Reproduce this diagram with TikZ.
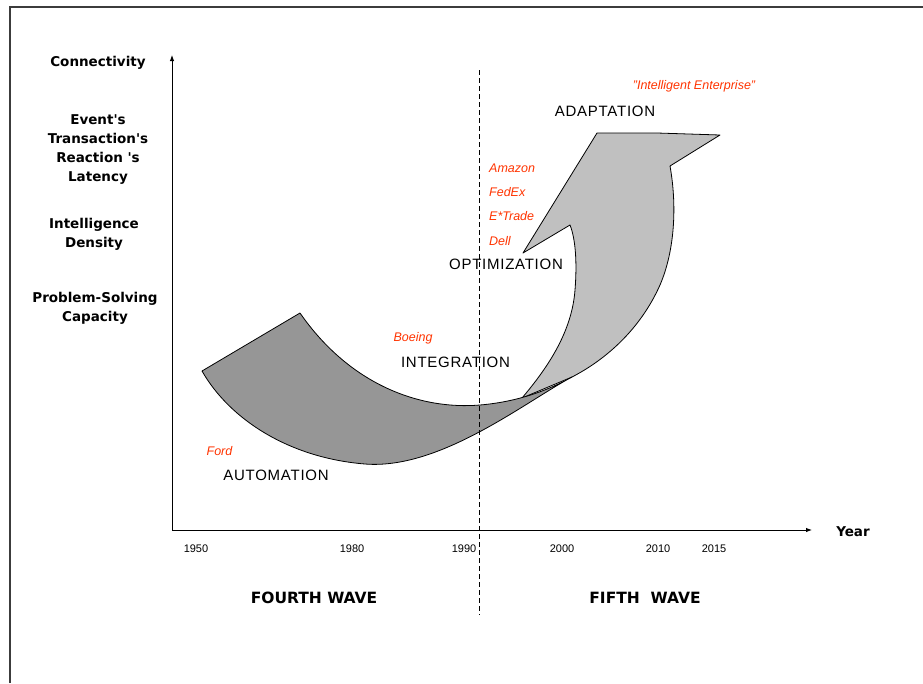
\documentclass[tikz,border=0pt]{standalone}
\usepackage{fontspec}
\setmainfont{Liberation Sans}
\newfontfamily\blbl{DejaVu Sans}
\newfontfamily\reglbl{Liberation Sans}[LetterSpace=5]
\usetikzlibrary{arrows.meta}
\definecolor{redlab}{RGB}{255,51,0}
\definecolor{darkfill}{RGB}{150,150,150}
\definecolor{lightfill}{RGB}{192,192,192}
\definecolor{framecol}{RGB}{60,60,60}
\tikzset{
  ylab/.style={font=\blbl\bfseries\fontsize{13.5}{19}\selectfont, align=center, inner sep=0pt},
  stage/.style={font=\reglbl\fontsize{15}{18}\selectfont, inner sep=0pt},
  company/.style={font=\itshape\fontsize{12.5}{15}\selectfont, text=redlab, inner sep=0pt},
  yearlab/.style={font=\fontsize{11}{13}\selectfont, inner sep=0pt},
  wave/.style={font=\blbl\bfseries\fontsize{15.5}{19}\selectfont, inner sep=0pt},
  axisline/.style={line width=0.9pt, -{Latex[length=6pt,width=4.5pt]}},
  wavebody/.style={draw=black, line width=0.8pt, line join=round},
  divider/.style={line width=0.9pt, dash pattern=on 5pt off 3pt},
  framel/.style={draw=framecol, line width=1.3pt}
}
\begin{document}
\begin{tikzpicture}[x=1pt,y=-1pt]
\useasboundingbox (0,0) rectangle (923,683);
% frame
\coordinate (fbl) at (10,683);
\coordinate (ftl) at (10,7);
\coordinate (ftr) at (923,7);
\draw[framel] (fbl) -- (ftl) -- (ftr);
% fifth-wave arrow (light)
\filldraw[wavebody, fill=lightfill] (522,398) .. controls (550,365) and (572,330) .. (575,290) .. controls (577,265) and (576,240) .. (570,225) -- (523,253) -- (597,133) -- (657,133) -- (720,135) -- (670,166) .. controls (677,205) and (675,250) .. (660,285) .. controls (640,330) and (605,360) .. (572,377) -- cycle;
% fourth-wave band (dark)
\filldraw[wavebody, fill=darkfill] (202,371) -- (300,313) .. controls (350,385) and (420,410) .. (480,405) .. controls (515,402) and (545,392) .. (572,377) .. controls (525,402) and (440,470) .. (365,464) .. controls (290,458) and (230,420) .. (202,371) -- cycle;
% axes
\coordinate (origin) at (172,530);
\coordinate (ytop) at (172,55);
\coordinate (xend) at (812,530);
\draw[axisline] (origin) -- (ytop);
\draw[axisline] (origin) -- (xend);
% divider
\coordinate (dtop) at (479,70);
\coordinate (dbot) at (479,615);
\draw[divider] (dtop) -- (dbot);
% y labels
\node[ylab] (conn) at (98,62.5) {Connectivity};
\node[ylab] (event) at (98,149.5) {Event\textquotesingle s\\Transaction\textquotesingle s\\Reaction \textquotesingle s\\Latency};
\node[ylab] (intel) at (94,234) {Intelligence\\Density};
\node[ylab] (prob) at (95,308) {Problem-Solving\\Capacity};
\node[ylab] (year) at (853,532) {Year};
% years
\node[yearlab] (y1950) at (196,549) {1950};
\node[yearlab] (y1980) at (352,549) {1980};
\node[yearlab] (y1990) at (464,549) {1990};
\node[yearlab] (y2000) at (562,549) {2000};
\node[yearlab] (y2010) at (658,549) {2010};
\node[yearlab] (y2015) at (714,549) {2015};
% waves
\node[wave] (fourth) at (314,598) {FOURTH WAVE};
\node[wave] (fifth) at (645,598) {FIFTH\ \ WAVE};
% stages
\node[stage] (auto) at (276,475.5) {AUTOMATION};
\node[stage] (integ) at (455.5,362) {INTEGRATION};
\node[stage] (optim) at (506,264.5) {OPTIMIZATION};
\node[stage] (adapt) at (605,111) {ADAPTATION};
% companies
\node[company] (ford) at (219.5,451.5) {Ford};
\node[company] (boeing) at (413,338) {Boeing};
\node[company, anchor=west] (amazon) at (489,168) {Amazon};
\node[company, anchor=west] (fedex) at (489,192) {FedEx};
\node[company, anchor=west] (etrade) at (489,216.5) {E*Trade};
\node[company, anchor=west] (dell) at (489,241) {Dell};
\node[company] (ie) at (694,86.5) {"Intelligent Enterprise"};
\end{tikzpicture}
\end{document}
